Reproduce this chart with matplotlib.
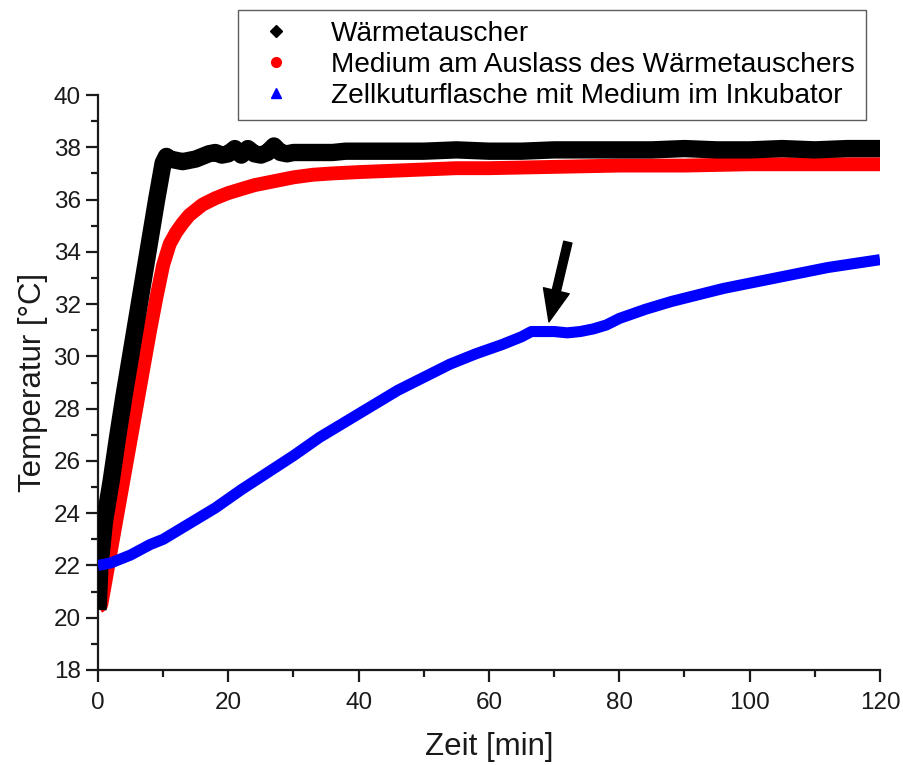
import matplotlib
matplotlib.use("Agg")
import matplotlib.pyplot as plt
from matplotlib.ticker import MultipleLocator
from matplotlib.lines import Line2D

plt.rcParams['font.family'] = ['Liberation Sans', 'DejaVu Sans']

# ---- data ----
black_t = [0, 0.3, 1, 2, 3, 4, 5, 6, 7, 8, 9, 10, 10.5, 11, 12, 13, 14, 15, 16, 17, 18, 19, 20,
           21, 22, 23, 24, 25, 26, 27, 28, 29, 30, 32, 34, 36, 38, 40, 45, 50, 55, 60, 65, 70,
           75, 80, 85, 90, 95, 100, 105, 110, 115, 120]
black_T = [20.3, 22.0, 23.7, 25.2, 26.9, 28.5, 30.0, 31.5, 33.0, 34.5, 36.0, 37.4, 37.65, 37.55,
           37.5, 37.45, 37.5, 37.55, 37.65, 37.75, 37.8, 37.7, 37.75, 37.95, 37.7, 37.95, 37.75,
           37.7, 37.8, 38.05, 37.8, 37.75, 37.8, 37.8, 37.8, 37.8, 37.85, 37.85, 37.85, 37.85,
           37.9, 37.85, 37.85, 37.9, 37.9, 37.9, 37.9, 37.95, 37.9, 37.9, 37.95, 37.9, 37.95, 37.95]

red_t = [0, 0.5, 1, 2, 3, 4, 5, 6, 7, 8, 9, 10, 10.5, 11, 12, 13, 14, 15, 16, 18, 20, 22, 24,
         26, 28, 30, 33, 36, 40, 45, 50, 55, 60, 70, 80, 90, 100, 110, 120]
red_T = [20.4, 20.5, 21.2, 22.6, 24.0, 25.4, 26.8, 28.2, 29.6, 31.0, 32.3, 33.5, 33.9, 34.3,
         34.75, 35.1, 35.4, 35.6, 35.8, 36.05, 36.25, 36.4, 36.55, 36.65, 36.75, 36.85, 36.95,
         37.0, 37.05, 37.1, 37.15, 37.2, 37.2, 37.25, 37.3, 37.3, 37.35, 37.35, 37.35]

blue_t = [0, 2, 5, 8, 10, 14, 18, 22, 26, 30, 34, 38, 42, 46, 50, 54, 58, 62, 65, 66.5, 68, 70,
          72, 74, 76, 78, 80, 84, 88, 92, 96, 100, 104, 108, 112, 116, 120]
blue_T = [22.0, 22.1, 22.4, 22.8, 23.0, 23.6, 24.2, 24.9, 25.55, 26.2, 26.9, 27.5, 28.1, 28.7,
          29.2, 29.7, 30.1, 30.45, 30.75, 30.95, 30.95, 30.95, 30.9, 30.95, 31.05, 31.2, 31.45,
          31.8, 32.1, 32.35, 32.6, 32.8, 33.0, 33.2, 33.4, 33.55, 33.7]

labels = ["Wärmetauscher",
          "Medium am Auslass des Wärmetauschers",
          "Zellkuturflasche mit Medium im Inkubator"]
colors = ["#000000", "#ff0000", "#0000ff"]
markers = ["D", "o", "^"]

arrow_tail = (72.1, 34.37)
arrow_tip = (69.2, 31.32)

# ---- figure ----
W, H = 904, 765
fig = plt.figure(figsize=(W / 100, H / 100), dpi=100)
ax = fig.add_axes([98 / W, 1 - 670 / H, (880 - 98) / W, (670 - 95) / H])

ax.plot(black_t, black_T, color=colors[0], lw=12.5, solid_capstyle='butt', solid_joinstyle='round', zorder=3)
ax.plot(red_t, red_T, color=colors[1], lw=10, solid_capstyle='butt', solid_joinstyle='round', zorder=2)
ax.plot(blue_t, blue_T, color=colors[2], lw=8, solid_capstyle='butt', solid_joinstyle='round', zorder=4)

ax.annotate('', xy=arrow_tip, xytext=arrow_tail,
            arrowprops=dict(arrowstyle='simple,head_width=19,head_length=23,tail_width=6',
                            mutation_scale=1, color='black', shrinkA=0, shrinkB=0))

ax.set_xlim(0, 120)
ax.set_ylim(18, 40)
ax.xaxis.set_major_locator(MultipleLocator(20))
ax.xaxis.set_minor_locator(MultipleLocator(10))
ax.yaxis.set_major_locator(MultipleLocator(2))
ax.yaxis.set_minor_locator(MultipleLocator(1))
for s in ['top', 'right']:
    ax.spines[s].set_visible(False)
for s in ['left', 'bottom']:
    ax.spines[s].set_linewidth(1.6)
    ax.spines[s].set_color('#1a1a1a')
ax.tick_params(which='major', direction='out', length=8.5, width=1.6, labelsize=17.5,
               colors='#1a1a1a')
ax.tick_params(which='minor', direction='out', length=5, width=1.6, colors='#1a1a1a')
ax.tick_params(axis='x', which='major', pad=7)
ax.tick_params(axis='y', which='major', pad=4)
ax.set_xlabel("Zeit [min]", fontsize=22.5, color='#1a1a1a', labelpad=13)
ax.set_ylabel("Temperatur [°C]", fontsize=22.5, color='#1a1a1a', labelpad=4)

handles = [Line2D([], [], ls='none', marker=m, color=c, markersize=ms)
           for m, c, ms in zip(markers, colors, [6, 7, 7])]
leg = fig.legend(handles, labels, loc='upper left',
                 bbox_to_anchor=(238 / W, 1 - 10 / H), fontsize=20.2,
                 frameon=True, fancybox=False, edgecolor='#333333', borderpad=0.4,
                 labelspacing=0.17, handletextpad=1.0, handlelength=1.9, borderaxespad=0)
leg.get_frame().set_linewidth(1.0)

fig.savefig("out.png", dpi=100)
